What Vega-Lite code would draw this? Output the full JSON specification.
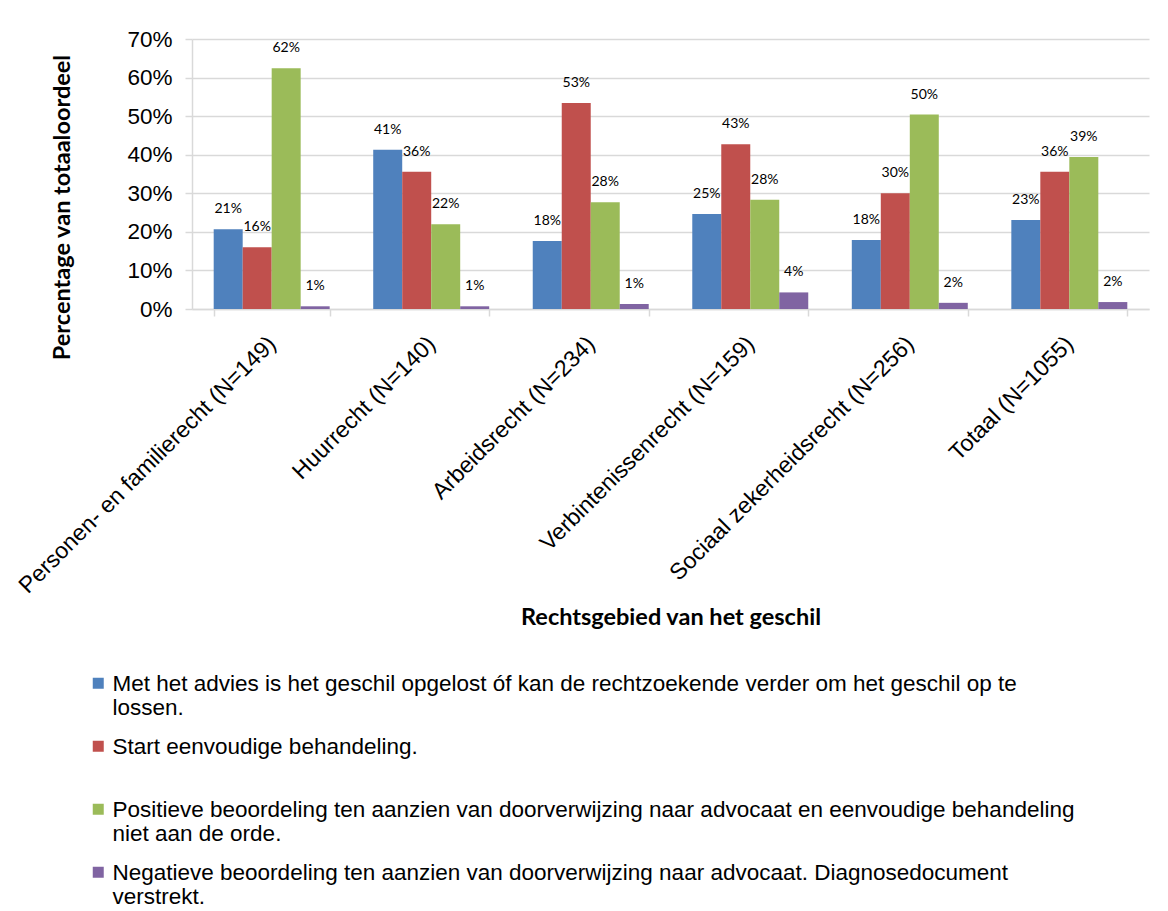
{
  "$schema": "https://vega.github.io/schema/vega-lite/v6.json",
  "width": 957,
  "height": 270,
  "autosize": {"type": "none"},
  "padding": {"left": 192, "top": 39, "right": 19, "bottom": 602},
  "background": "white",
  "config": {
    "view": {"stroke": null},
    "axis": {"labelColor": "black", "titleColor": "black"}
  },
  "data": {
    "values": [
      {"rechtsgebied": "Personen- en familierecht (N=149)", "oordeel": "Met het advies is het geschil opgelost óf kan de rechtzoekende verder om het geschil op te lossen.", "aandeel": 0.207},
      {"rechtsgebied": "Personen- en familierecht (N=149)", "oordeel": "Start eenvoudige behandeling.", "aandeel": 0.160},
      {"rechtsgebied": "Personen- en familierecht (N=149)", "oordeel": "Positieve beoordeling ten aanzien van doorverwijzing naar advocaat en eenvoudige behandeling niet aan de orde.", "aandeel": 0.624},
      {"rechtsgebied": "Personen- en familierecht (N=149)", "oordeel": "Negatieve beoordeling ten aanzien van doorverwijzing naar advocaat. Diagnosedocument verstrekt.", "aandeel": 0.007},
      {"rechtsgebied": "Huurrecht (N=140)", "oordeel": "Met het advies is het geschil opgelost óf kan de rechtzoekende verder om het geschil op te lossen.", "aandeel": 0.413},
      {"rechtsgebied": "Huurrecht (N=140)", "oordeel": "Start eenvoudige behandeling.", "aandeel": 0.356},
      {"rechtsgebied": "Huurrecht (N=140)", "oordeel": "Positieve beoordeling ten aanzien van doorverwijzing naar advocaat en eenvoudige behandeling niet aan de orde.", "aandeel": 0.220},
      {"rechtsgebied": "Huurrecht (N=140)", "oordeel": "Negatieve beoordeling ten aanzien van doorverwijzing naar advocaat. Diagnosedocument verstrekt.", "aandeel": 0.007},
      {"rechtsgebied": "Arbeidsrecht (N=234)", "oordeel": "Met het advies is het geschil opgelost óf kan de rechtzoekende verder om het geschil op te lossen.", "aandeel": 0.176},
      {"rechtsgebied": "Arbeidsrecht (N=234)", "oordeel": "Start eenvoudige behandeling.", "aandeel": 0.534},
      {"rechtsgebied": "Arbeidsrecht (N=234)", "oordeel": "Positieve beoordeling ten aanzien van doorverwijzing naar advocaat en eenvoudige behandeling niet aan de orde.", "aandeel": 0.277},
      {"rechtsgebied": "Arbeidsrecht (N=234)", "oordeel": "Negatieve beoordeling ten aanzien van doorverwijzing naar advocaat. Diagnosedocument verstrekt.", "aandeel": 0.013},
      {"rechtsgebied": "Verbintenissenrecht (N=159)", "oordeel": "Met het advies is het geschil opgelost óf kan de rechtzoekende verder om het geschil op te lossen.", "aandeel": 0.246},
      {"rechtsgebied": "Verbintenissenrecht (N=159)", "oordeel": "Start eenvoudige behandeling.", "aandeel": 0.427},
      {"rechtsgebied": "Verbintenissenrecht (N=159)", "oordeel": "Positieve beoordeling ten aanzien van doorverwijzing naar advocaat en eenvoudige behandeling niet aan de orde.", "aandeel": 0.283},
      {"rechtsgebied": "Verbintenissenrecht (N=159)", "oordeel": "Negatieve beoordeling ten aanzien van doorverwijzing naar advocaat. Diagnosedocument verstrekt.", "aandeel": 0.043},
      {"rechtsgebied": "Sociaal zekerheidsrecht (N=256)", "oordeel": "Met het advies is het geschil opgelost óf kan de rechtzoekende verder om het geschil op te lossen.", "aandeel": 0.179},
      {"rechtsgebied": "Sociaal zekerheidsrecht (N=256)", "oordeel": "Start eenvoudige behandeling.", "aandeel": 0.300},
      {"rechtsgebied": "Sociaal zekerheidsrecht (N=256)", "oordeel": "Positieve beoordeling ten aanzien van doorverwijzing naar advocaat en eenvoudige behandeling niet aan de orde.", "aandeel": 0.504},
      {"rechtsgebied": "Sociaal zekerheidsrecht (N=256)", "oordeel": "Negatieve beoordeling ten aanzien van doorverwijzing naar advocaat. Diagnosedocument verstrekt.", "aandeel": 0.016},
      {"rechtsgebied": "Totaal (N=1055)", "oordeel": "Met het advies is het geschil opgelost óf kan de rechtzoekende verder om het geschil op te lossen.", "aandeel": 0.231},
      {"rechtsgebied": "Totaal (N=1055)", "oordeel": "Start eenvoudige behandeling.", "aandeel": 0.356},
      {"rechtsgebied": "Totaal (N=1055)", "oordeel": "Positieve beoordeling ten aanzien van doorverwijzing naar advocaat en eenvoudige behandeling niet aan de orde.", "aandeel": 0.394},
      {"rechtsgebied": "Totaal (N=1055)", "oordeel": "Negatieve beoordeling ten aanzien van doorverwijzing naar advocaat. Diagnosedocument verstrekt.", "aandeel": 0.018}
    ]
  },
  "encoding": {
    "x": {
      "field": "rechtsgebied",
      "type": "nominal",
      "sort": ["Personen- en familierecht (N=149)", "Huurrecht (N=140)", "Arbeidsrecht (N=234)", "Verbintenissenrecht (N=159)", "Sociaal zekerheidsrecht (N=256)", "Totaal (N=1055)"],
      "scale": {"paddingInner": 0.273, "paddingOuter": 0.136},
      "axis": {
        "title": "Rechtsgebied van het geschil",
        "labelAngle": -45,
        "labelAlign": "right",
        "labelBaseline": "middle",
        "labelFont": "Liberation Sans",
        "labelFontSize": 23,
        "labelLimit": 0,
        "labelPadding": 24,
        "tickBand": "extent",
        "tickSize": 7,
        "tickColor": "#D9D9D9",
        "tickWidth": 1.5,
        "domainColor": "#D9D9D9",
        "domainWidth": 1.5,
        "grid": false,
        "titleFont": "Lato",
        "titleFontSize": 23.5,
        "titleFontWeight": "bold",
        "titleBaseline": "middle",
        "titleY": 308
      }
    },
    "xOffset": {
      "field": "oordeel",
      "type": "nominal",
      "sort": ["Met het advies is het geschil opgelost óf kan de rechtzoekende verder om het geschil op te lossen.", "Start eenvoudige behandeling.", "Positieve beoordeling ten aanzien van doorverwijzing naar advocaat en eenvoudige behandeling niet aan de orde.", "Negatieve beoordeling ten aanzien van doorverwijzing naar advocaat. Diagnosedocument verstrekt."]
    },
    "y": {
      "field": "aandeel",
      "type": "quantitative",
      "scale": {"domain": [0, 0.7], "nice": false},
      "axis": {
        "title": "Percentage van totaaloordeel",
        "values": [0, 0.1, 0.2, 0.3, 0.4, 0.5, 0.6, 0.7],
        "format": ".0%",
        "labelFont": "Liberation Sans",
        "labelFontSize": 22.5,
        "labelPadding": 13,
        "tickSize": 7,
        "tickColor": "#D9D9D9",
        "tickWidth": 1.5,
        "domainColor": "#D9D9D9",
        "domainWidth": 1.5,
        "grid": true,
        "gridColor": "#D9D9D9",
        "gridWidth": 1.5,
        "titleFont": "Lato",
        "titleFontSize": 23.5,
        "titleFontWeight": "bold",
        "titlePadding": 52,
        "titleY": 168
      }
    }
  },
  "layer": [
    {
      "mark": {"type": "bar"},
      "encoding": {
        "color": {
          "field": "oordeel",
          "type": "nominal",
          "scale": {
            "domain": ["Met het advies is het geschil opgelost óf kan de rechtzoekende verder om het geschil op te lossen.", "Start eenvoudige behandeling.", "Positieve beoordeling ten aanzien van doorverwijzing naar advocaat en eenvoudige behandeling niet aan de orde.", "Negatieve beoordeling ten aanzien van doorverwijzing naar advocaat. Diagnosedocument verstrekt."],
            "range": ["#4F81BD", "#C0504D", "#9BBB59", "#8064A2"]
          },
          "legend": {
            "title": null,
            "orient": "none",
            "legendX": -105,
            "legendY": 633,
            "direction": "vertical",
            "columns": 1,
            "padding": 0,
            "symbolType": "square",
            "symbolSize": 121,
            "symbolStrokeWidth": 0,
            "labelFont": "Liberation Sans",
            "labelFontSize": 22.5,
            "labelColor": "black",
            "labelLimit": 1100,
            "labelOffset": 3,
            "labelBaseline": "alphabetic",
            "rowPadding": 15,
            "labelExpr": "indexof(datum.label, 'Met') == 0 ? ['Met het advies is het geschil opgelost óf kan de rechtzoekende verder om het geschil op te', 'lossen.'] : indexof(datum.label, 'Start') == 0 ? [datum.label, ''] : indexof(datum.label, 'Positieve') == 0 ? ['Positieve beoordeling ten aanzien van doorverwijzing naar advocaat en eenvoudige behandeling', 'niet aan de orde.'] : ['Negatieve beoordeling ten aanzien van doorverwijzing naar advocaat. Diagnosedocument', 'verstrekt.']",
            "encode": {
              "labels": {"update": {"dy": {"value": 7.5}, "lineHeight": {"value": 24}}}
            }
          }
        }
      }
    },
    {
      "mark": {"type": "text", "dy": -20, "font": "Lato", "fontSize": 14, "color": "black"},
      "encoding": {
        "text": {"field": "aandeel", "type": "quantitative", "format": ".0%"}
      }
    }
  ]
}
